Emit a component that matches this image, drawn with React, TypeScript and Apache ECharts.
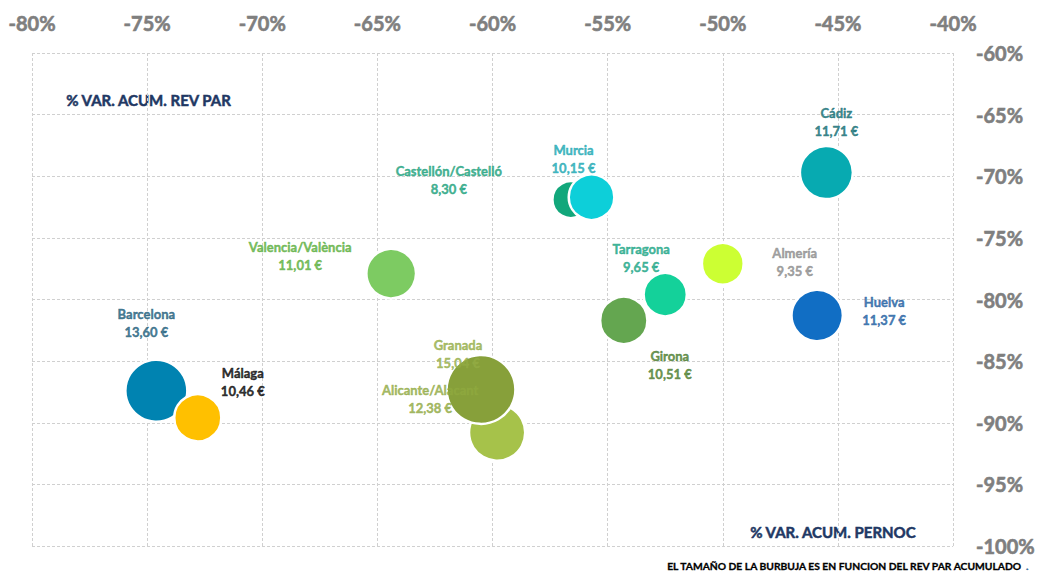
import React, { useEffect, useRef } from "react";
import * as echarts from "echarts";

const cities = ["Castellón/Castelló", "Murcia", "Barcelona", "Málaga", "Valencia/València", "Alicante/Alacant", "Granada", "Cádiz", "Almería", "Tarragona", "Girona", "Huelva"];
const pernocVar = [-56.6, -55.7, -74.6, -72.8, -64.4, -59.8, -60.5, -45.5, -50.0, -52.5, -54.3, -45.9];
const revparVar = [-71.9, -71.7, -87.4, -89.6, -77.9, -90.8, -87.3, -69.7, -77.1, -79.6, -81.7, -81.3];
const revparAcum = [8.30, 10.15, 13.60, 10.46, 11.01, 12.38, 15.04, 11.71, 9.35, 9.65, 10.51, 11.37];
const xTicks = { min: -80, max: -40, step: 5 };
const yTicks = { min: -100, max: -60, step: 5 };

// styles
const bubbleColors = ["#12A77B", "#0DCFD9", "#0083B1", "#FFC000", "#7DCB62", "#A6C24A", "#87A03A", "#07AAB1", "#CCFF33", "#14D19A", "#64A650", "#116EC4"];
const labelColors = ["#17A07A", "#17A7B2", "#1A5C7A", "#000000", "#58AE3A", "#8FA93F", "#93AC44", "#0E6C72", "#8A8A8A", "#15A483", "#477A2A", "#1A5CA0"];
const labelOffsets = [[-122, -20], [-18, -38], [-10, -68], [45, -36], [-91, -18], [-67, -34], [-23, -35], [10, -51], [72, -2], [-24, -37], [46, 45], [67, -5]];

const FONT = "Lato, 'Open Sans', sans-serif";

const fmtEuro = (v: number) => v.toFixed(2).replace(".", ",") + " €";

export default function App() {
  const ref = useRef<HTMLDivElement>(null);
  useEffect(() => {
    document.body.style.margin = "0";
    if (!ref.current) return;
    const chart = echarts.init(ref.current, undefined, { renderer: "svg" });
    const points = cities.map((c, i) => [pernocVar[i], revparVar[i], revparAcum[i], c]);
    const axisLabel = {
      formatter: (v: number) => `${v}%`,
      color: "#7F7F7F",
      fontSize: 20,
      fontWeight: "bold",
      fontFamily: FONT,
      textBorderColor: "#7F7F7F",
      textBorderWidth: 0.6,
    };
    const grid = { show: true, lineStyle: { color: "#D0D0D0", type: [3, 2], width: 1 } };
    chart.setOption({
      animation: false,
      grid: { left: 32, right: 81, top: 53, bottom: 27 },
      xAxis: {
        type: "value",
        position: "top",
        min: xTicks.min,
        max: xTicks.max,
        interval: xTicks.step,
        axisLine: { show: false },
        axisTick: { show: false },
        axisLabel: { ...axisLabel, margin: 20 },
        splitLine: grid,
      },
      yAxis: {
        type: "value",
        position: "right",
        min: yTicks.min,
        max: yTicks.max,
        interval: yTicks.step,
        axisLine: { show: false },
        axisTick: { show: false },
        axisLabel: { ...axisLabel, margin: 23 },
        splitLine: grid,
      },
      series: [
        {
          type: "scatter",
          z: 2,
          symbolSize: (val: any[]) => 4.75 * val[2] - 2.6,
          data: points.map((p, i) => ({
            value: p,
            itemStyle: { color: bubbleColors[i], borderColor: "#FFFFFF", borderWidth: 2.5, opacity: 1 },
          })),
        },
        {
          type: "scatter",
          z: 3,
          symbolSize: 1,
          silent: true,
          data: points.map((p, i) => ({
            value: p,
            itemStyle: { color: "transparent" },
            label: {
              show: true,
              position: "inside",
              offset: labelOffsets[i],
              formatter: `${cities[i]}\n${fmtEuro(revparAcum[i])}`,
              color: labelColors[i],
              textBorderColor: labelColors[i],
              textBorderWidth: 0.45,
              fontSize: 13,
              fontWeight: "bold",
              fontFamily: FONT,
              lineHeight: 18,
              align: "center",
            },
          })),
        },
      ],
      graphic: [
        { type: "text", left: 66, top: 92, style: { text: "% VAR. ACUM. REV PAR", fill: "#1F3864", stroke: "#1F3864", lineWidth: 0.5, font: `bold 15px ${FONT}` } },
        { type: "text", left: 750, top: 524, style: { text: "% VAR. ACUM. PERNOC", fill: "#1F3864", stroke: "#1F3864", lineWidth: 0.5, font: `bold 15px ${FONT}` } },
        {
          type: "text",
          left: 667,
          top: 561,
          style: {
            text: "EL TAMAÑO DE LA BURBUJA ES EN FUNCION DEL REV PAR ACUMULADO {b|.}",
            fill: "#000000",
            stroke: "#000000",
            lineWidth: 0.3,
            font: `bold 10.3px ${FONT}`,
            rich: { b: { fill: "#2E75B6", font: `bold 10.3px ${FONT}` } },
          },
        },
      ],
    });
    return () => chart.dispose();
  }, []);
  return <div ref={ref} style={{ width: 1038, height: 573 }} />;
}
